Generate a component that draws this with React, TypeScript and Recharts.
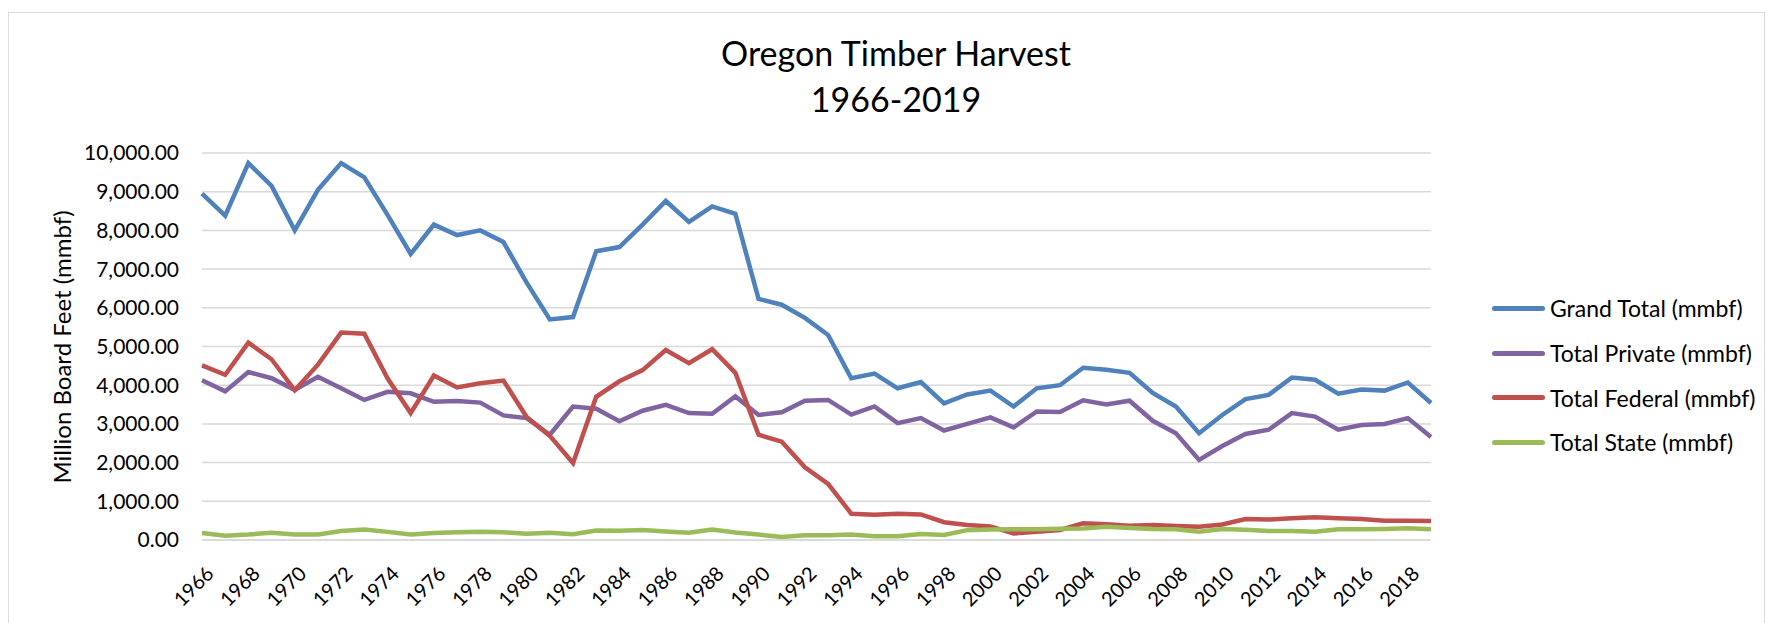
import React from 'react';
import { LineChart, Line, XAxis, YAxis, CartesianGrid } from 'recharts';

const YEARS = [
  1966, 1967, 1968, 1969, 1970, 1971, 1972, 1973, 1974, 1975,
  1976, 1977, 1978, 1979, 1980, 1981, 1982, 1983, 1984, 1985,
  1986, 1987, 1988, 1989, 1990, 1991, 1992, 1993, 1994, 1995,
  1996, 1997, 1998, 1999, 2000, 2001, 2002, 2003, 2004, 2005,
  2006, 2007, 2008, 2009, 2010, 2011, 2012, 2013, 2014, 2015,
  2016, 2017, 2018, 2019,
];

const GRAND_TOTAL = [
  8950, 8380, 9740, 9150, 8000, 9050, 9740, 9370, 8400, 7390,
  8150, 7880, 8000, 7700, 6650, 5700, 5760, 7460, 7570, 8150,
  8760, 8220, 8620, 8430, 6230, 6080, 5740, 5300, 4180, 4300,
  3920, 4080, 3530, 3760, 3860, 3450, 3920, 4000, 4450, 4400,
  4320, 3800, 3450, 2760, 3230, 3640, 3750, 4200, 4140, 3780,
  3890, 3860, 4070, 3540,
];

const TOTAL_PRIVATE = [
  4130, 3840, 4340, 4180, 3880, 4220, 3920, 3620, 3830, 3790,
  3570, 3590, 3550, 3220, 3150, 2720, 3450, 3390, 3070, 3340,
  3490, 3280, 3260, 3710, 3230, 3300, 3600, 3620, 3240, 3450,
  3020, 3150, 2830, 3000, 3170, 2910, 3320, 3310, 3610, 3500,
  3600, 3080, 2760, 2070, 2430, 2740, 2850, 3280, 3190, 2850,
  2970, 3000, 3150, 2660,
];

const TOTAL_FEDERAL = [
  4510, 4270, 5100, 4670, 3870, 4530, 5360, 5330, 4180, 3280,
  4250, 3940, 4050, 4120, 3180, 2690, 1990, 3700, 4100, 4390,
  4910, 4570, 4930, 4320, 2720, 2540, 1880, 1450, 680, 650,
  680, 660, 460, 390, 350, 170, 210, 260, 430, 410,
  370, 390, 360, 340, 400, 540, 530, 560, 590, 560,
  540, 500, 500, 490,
];

const TOTAL_STATE = [
  180, 110, 140, 190, 140, 140, 230, 270, 210, 140,
  180, 200, 210, 200, 160, 190, 150, 245, 240, 260,
  220, 190, 270, 195, 140, 75, 125, 125, 140, 95,
  100, 155, 130, 255, 270, 275, 280, 290, 300, 340,
  310, 285, 275, 215, 285, 265, 235, 233, 215, 276,
  276, 284, 305, 276,
];

const Y_TICKS = [0, 1000, 2000, 3000, 4000, 5000, 6000, 7000, 8000, 9000, 10000];

const SERIES = [
  { key: `grand`, name: `Grand Total (mmbf)`, color: `#4F81BD`, values: GRAND_TOTAL },
  { key: `private`, name: `Total Private (mmbf)`, color: `#8064A2`, values: TOTAL_PRIVATE },
  { key: `federal`, name: `Total Federal (mmbf)`, color: `#C0504D`, values: TOTAL_FEDERAL },
  { key: `state`, name: `Total State (mmbf)`, color: `#9BBB59`, values: TOTAL_STATE },
];

const FONT = `Lato, "Liberation Sans", sans-serif`;

const data = YEARS.map((year, i) => {
  const row: Record<string, number | string> = { year: String(year) };
  SERIES.forEach((s) => {
    row[s.key] = s.values[i];
  });
  return row;
});

const formatTick = (v: number) =>
  v.toLocaleString(`en-US`, { minimumFractionDigits: 2, maximumFractionDigits: 2 });

const YearTick = (props) => {
  const { x, y, payload } = props;
  return (
    <g transform={`translate(${x + 8},${y + 22})`}>
      <text
        transform="rotate(-45)"
        textAnchor="end"
        dy="0.35em"
        fontSize={20}
        fontFamily={FONT}
        fill="#000"
      >
        {payload.value}
      </text>
    </g>
  );
};

const App = () => {
  return (
    <div style={{ position: `relative`, width: 1769, height: 623, background: `#fff`, fontFamily: FONT }}>
      <style>{`body{margin:0}`}</style>
      <div
        style={{
          position: `absolute`,
          left: 8,
          top: 12,
          width: 1757,
          height: 620,
          border: `1px solid #d9d9d9`,
          boxSizing: `border-box`,
        }}
      />
      <div
        style={{
          position: `absolute`,
          left: 596,
          width: 600,
          top: 30,
          textAlign: `center`,
          fontSize: 34,
          lineHeight: `46px`,
          color: `#000`,
        }}
      >
        <div>Oregon Timber Harvest</div>
        <div>1966-2019</div>
      </div>
      <div
        style={{
          position: `absolute`,
          left: 61,
          top: 347,
          transform: `translate(-50%, -50%) rotate(-90deg)`,
          whiteSpace: `nowrap`,
          fontSize: 24,
          color: `#000`,
        }}
      >
        Million Board Feet (mmbf)
      </div>
      <div style={{ position: `absolute`, left: 0, top: 0 }}>
        <LineChart
          width={1769}
          height={623}
          data={data}
          margin={{ top: 153, right: 338, bottom: 0, left: 102 }}
        >
          <CartesianGrid vertical={false} stroke="#d9d9d9" strokeWidth={1.5} />
          <XAxis
            dataKey="year"
            height={83}
            interval={1}
            axisLine={{ stroke: `#d9d9d9`, strokeWidth: 1.5 }}
            tickLine={false}
            tick={<YearTick />}
          />
          <YAxis
            width={100}
            domain={[0, 10000]}
            ticks={Y_TICKS}
            tickFormatter={formatTick}
            axisLine={false}
            tickLine={false}
            tickMargin={17}
            tick={{ fontSize: 21, fontFamily: FONT, fill: `#000` }}
          />
          {SERIES.map((s) => (
            <Line
              key={s.key}
              type="linear"
              dataKey={s.key}
              name={s.name}
              stroke={s.color}
              strokeWidth={4.5}
              dot={false}
              isAnimationActive={false}
            />
          ))}
        </LineChart>
      </div>
      <div style={{ position: `absolute`, left: 1492, top: 286 }}>
        {SERIES.map((s) => (
          <div key={s.key} style={{ display: `flex`, alignItems: `center`, height: 44.7 }}>
            <div
              style={{ width: 53, height: 5, borderRadius: 3, background: s.color, marginRight: 5 }}
            />
            <span style={{ fontSize: 23, color: `#000`, whiteSpace: `nowrap` }}>{s.name}</span>
          </div>
        ))}
      </div>
    </div>
  );
};

export default App;
